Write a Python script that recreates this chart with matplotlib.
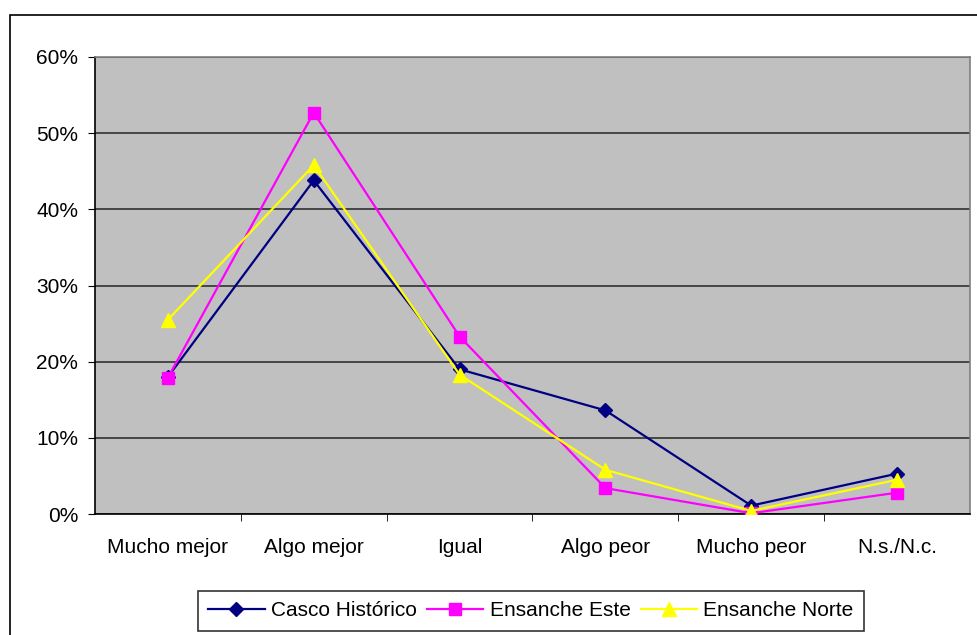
import matplotlib
matplotlib.use("Agg")
import matplotlib.pyplot as plt
from matplotlib.patches import Rectangle
from matplotlib.ticker import FuncFormatter, MultipleLocator, FixedLocator

plt.rcParams['font.family'] = ['Liberation Sans', 'DejaVu Sans']

categories = ["Mucho mejor", "Algo mejor", "Igual", "Algo peor", "Mucho peor", "N.s./N.c."]
casco_historico = [18.0, 43.8, 19.0, 13.6, 1.1, 5.3]
ensanche_este = [17.9, 52.7, 23.3, 3.4, 0.1, 2.8]
ensanche_norte = [25.5, 45.8, 18.3, 5.8, 0.4, 4.5]
series_names = ["Casco Histórico", "Ensanche Este", "Ensanche Norte"]

FS = 15

fig = plt.figure(figsize=(9.78, 6.35), dpi=100)
fig.patch.set_facecolor("white")
ax = fig.add_axes([95/978, 1-514/635, 875/978, 457/635])
ax.set_facecolor("#C0C0C0")

x = list(range(len(categories)))
ax.plot(x, casco_historico, color="#000080", lw=1.6, marker="D", ms=7,
        mfc="#000080", mec="#000080", label=series_names[0], zorder=3)
ax.plot(x, ensanche_este, color="#FF00FF", lw=1.6, marker="s", ms=9,
        mfc="#FF00FF", mec="#FF00FF", label=series_names[1], zorder=3)
ax.plot(x, ensanche_norte, color="#FFFF00", lw=1.6, marker="^", ms=10,
        mfc="#FFFF00", mec="#FFFF00", label=series_names[2], zorder=4)

ax.set_xlim(-0.5, len(categories) - 0.5)
ax.set_ylim(0, 60)
ax.yaxis.set_major_locator(MultipleLocator(10))
ax.yaxis.set_major_formatter(FuncFormatter(lambda v, p: f"{int(round(v))}%"))
ax.grid(axis="y", color="#303030", lw=1.2)
ax.set_axisbelow(True)

ax.set_xticks(x)
ax.set_xticklabels(categories)
ax.xaxis.set_minor_locator(FixedLocator([i + 0.5 for i in range(len(categories) - 1)]))
ax.tick_params(axis="x", which="major", length=0, pad=17, labelsize=FS)
ax.tick_params(axis="x", which="minor", length=5, direction="out", color="black")
ax.tick_params(axis="y", length=5, direction="out", pad=7, labelsize=FS)

for s in ["top", "right"]:
    ax.spines[s].set_color("#808080")
    ax.spines[s].set_linewidth(1.2)
for s in ["left", "bottom"]:
    ax.spines[s].set_color("black")
    ax.spines[s].set_linewidth(1.2)

# outer chart frame
fig.patches.append(Rectangle((10/978, -0.05), 1.0, 1 - 15/635 + 0.05,
                             transform=fig.transFigure, fill=False,
                             edgecolor="black", lw=1.2))

leg = fig.legend(loc="center", bbox_to_anchor=(531/978, 1-611/635), ncol=3,
                 frameon=True, fancybox=False, edgecolor="black",
                 fontsize=FS, handlelength=2.7, handletextpad=0.3,
                 columnspacing=0.5, borderpad=0.5)
leg.get_frame().set_linewidth(1.2)

fig.savefig("out.png", dpi=100)
